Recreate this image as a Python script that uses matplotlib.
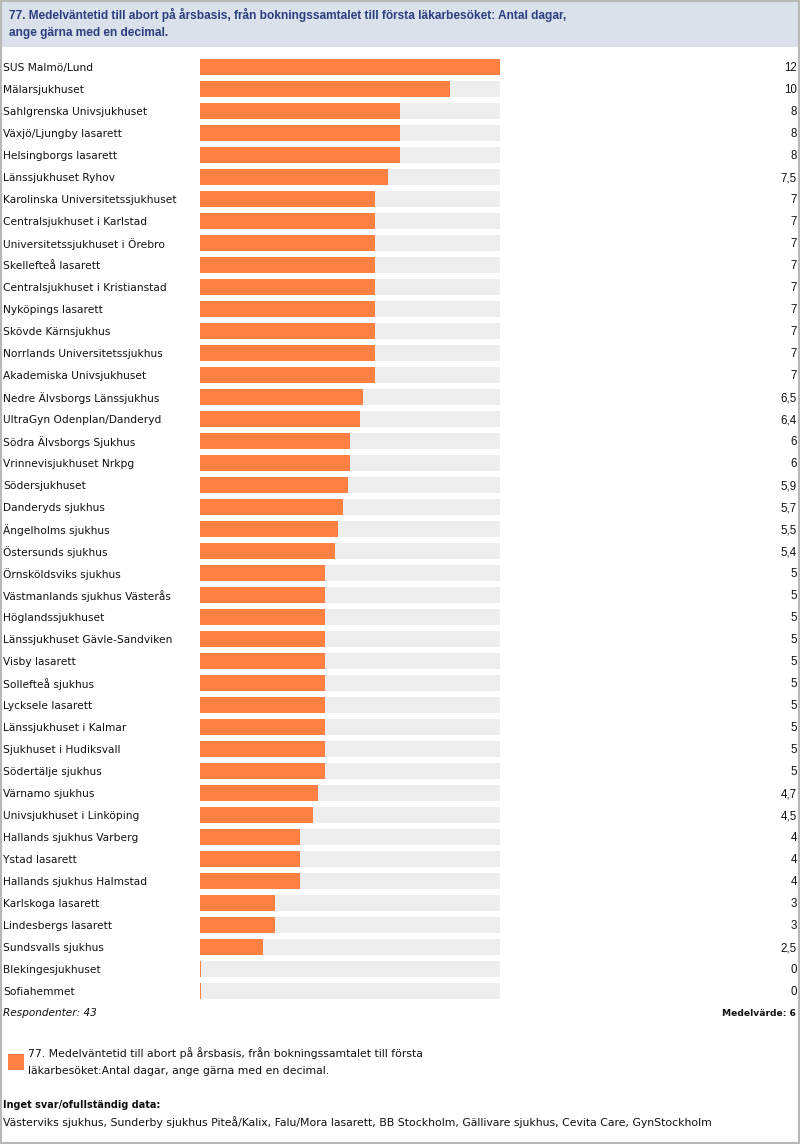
import numpy as np
import matplotlib
matplotlib.use("Agg")
import matplotlib.pyplot as plt
from matplotlib.transforms import blended_transform_factory
from matplotlib.patches import Rectangle

title_lines = [
    "77. Medelväntetid till abort på årsbasis, från bokningssamtalet till första läkarbesöket: Antal dagar,",
    "ange gärna med en decimal.",
]

hospitals = [
    "SUS Malmö/Lund", "Mälarsjukhuset", "Sahlgrenska Univsjukhuset",
    "Växjö/Ljungby lasarett", "Helsingborgs lasarett", "Länssjukhuset Ryhov",
    "Karolinska Universitetssjukhuset", "Centralsjukhuset i Karlstad",
    "Universitetssjukhuset i Örebro", "Skellefteå lasarett",
    "Centralsjukhuset i Kristianstad", "Nyköpings lasarett", "Skövde Kärnsjukhus",
    "Norrlands Universitetssjukhus", "Akademiska Univsjukhuset",
    "Nedre Älvsborgs Länssjukhus", "UltraGyn Odenplan/Danderyd",
    "Södra Älvsborgs Sjukhus", "Vrinnevisjukhuset Nrkpg", "Södersjukhuset",
    "Danderyds sjukhus", "Ängelholms sjukhus", "Östersunds sjukhus",
    "Örnsköldsviks sjukhus", "Västmanlands sjukhus Västerås", "Höglandssjukhuset",
    "Länssjukhuset Gävle-Sandviken", "Visby lasarett", "Sollefteå sjukhus",
    "Lycksele lasarett", "Länssjukhuset i Kalmar", "Sjukhuset i Hudiksvall",
    "Södertälje sjukhus", "Värnamo sjukhus", "Univsjukhuset i Linköping",
    "Hallands sjukhus Varberg", "Ystad lasarett", "Hallands sjukhus Halmstad",
    "Karlskoga lasarett", "Lindesbergs lasarett", "Sundsvalls sjukhus",
    "Blekingesjukhuset", "Sofiahemmet",
]
days = [
    12, 10, 8, 8, 8, 7.5, 7, 7, 7, 7, 7, 7, 7, 7, 7, 6.5, 6.4, 6, 6, 5.9,
    5.7, 5.5, 5.4, 5, 5, 5, 5, 5, 5, 5, 5, 5, 5, 4.7, 4.5, 4, 4, 4, 3, 3,
    2.5, 0, 0,
]
respondents = 43
mean_value = 6
legend_lines = [
    "77. Medelväntetid till abort på årsbasis, från bokningssamtalet till första",
    "läkarbesöket:Antal dagar, ange gärna med en decimal.",
]
missing_title = "Inget svar/ofullständig data:"
missing = ["Västerviks sjukhus", "Sunderby sjukhus Piteå/Kalix", "Falu/Mora lasarett",
           "BB Stockholm", "Gällivare sjukhus", "Cevita Care", "GynStockholm"]

ORANGE = "#ff8142"
TRACK = "#eeeeee"
HEAD_BG = "#dbe1eb"
HEAD_FG = "#2b3f80"
BORDER = "#b8b8b8"
INK = "#111111"

W, H = 800, 1144
fig = plt.figure(figsize=(W / 100, H / 100), dpi=100)

# overlay in pixel coordinates
ov = fig.add_axes([0, 0, 1, 1])
ov.set_xlim(0, W)
ov.set_ylim(H, 0)
ov.axis("off")

ov.add_patch(Rectangle((0, 0), W, 47, color=HEAD_BG, lw=0))
ov.add_patch(Rectangle((0.5, 0.5), 798, 1142, fill=False, ec=BORDER, lw=1.5))
for k, line in enumerate(title_lines):
    ov.text(9, 15 + 18 * k, line, fontsize=8.6, fontweight="bold", color=HEAD_FG,
            family="Liberation Sans", va="center", ha="left")

# bar area: x 200..500 px, rows of 22 px starting at y=56
n = len(hospitals)
top, step = 56, 22
ax = fig.add_axes([200 / W, 1 - (top + n * step) / H, 300 / W, n * step / H])
ax.set_xlim(0, 12)
ax.set_ylim(n - 0.5, -0.5)
ax.axis("off")

y = np.arange(n)
vals = np.array(days, dtype=float)
ax.barh(y, 12, height=16 / 22, color=TRACK, lw=0)
ax.barh(y, np.maximum(vals, 0.05), height=16 / 22, color=ORANGE, lw=0)

tr = blended_transform_factory(ov.transData, ax.transData)
for i, (name, v) in enumerate(zip(hospitals, days)):
    ov.text(3, i + 0.06, name, transform=tr, fontsize=7.7, va="center", ha="left", color=INK)
    s = (f"{v:g}").replace(".", ",")
    ov.text(797, i + 0.06, s, transform=tr, fontsize=8.3, va="center", ha="right",
            color=INK, family="Liberation Sans")

ov.text(3, 1013, f"Respondenter: {respondents}", fontsize=7.6, style="italic",
        va="center", ha="left", color=INK)
ov.text(796, 1013, f"Medelvärde: {mean_value}", fontsize=6.6, fontweight="bold",
        va="center", ha="right", color=INK)

ov.add_patch(Rectangle((8, 1054), 16, 16, color=ORANGE, lw=0))
for k, line in enumerate(legend_lines):
    ov.text(28, 1053 + 18 * k, line, fontsize=7.8, va="center", ha="left", color=INK)

ov.text(3, 1105, missing_title, fontsize=7, fontweight="bold", va="center",
        ha="left", color=INK)
ov.text(3, 1122, ", ".join(missing), fontsize=7.8, va="center", ha="left", color=INK)

fig.savefig("out.png", dpi=100)
